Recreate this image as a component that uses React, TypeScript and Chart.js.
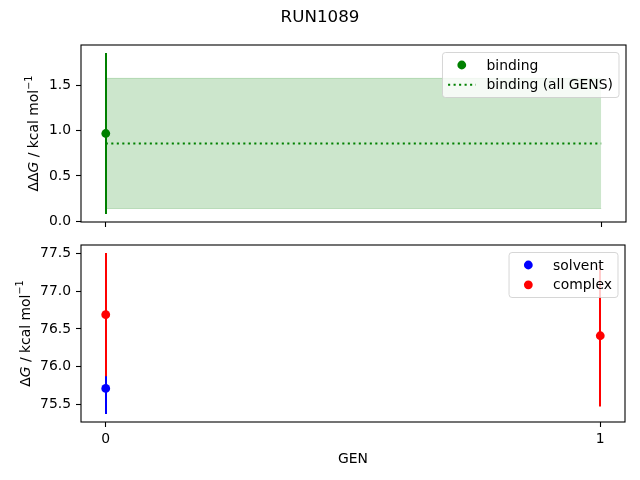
import React, { useEffect, useRef } from "react"
import { Chart, registerables } from "chart.js"

Chart.register(...registerables)

const title = "RUN1089"
const xLabel = "GEN"
const xTicks = [0, 1]

const bindingGens = [0]
const bindingValues = [0.97]
const bindingErrors = [0.89]
const bindingAllGens = [0, 1]
const bindingAllValue = 0.86
const bindingAllError = 0.72

const solventGens = [0]
const solventValues = [75.71]
const solventErrors = [0.34]
const complexGens = [0, 1]
const complexValues = [76.69, 76.41]
const complexErrors = [0.82, 0.94]

const topYTicks = [0, 0.5, 1.0, 1.5]
const bottomYTicks = [75.5, 76.0, 76.5, 77.0, 77.5]

const GREEN = "rgb(0,128,0)"
const BLUE = "rgb(0,0,255)"
const RED = "rgb(255,0,0)"
const FONT = "'DejaVu Sans', sans-serif"
const FS = 13.9

type Part = [string, "n" | "i" | "sup"]
type ErrSeries = { xs: number[]; ys: number[]; errs: number[]; color: string }
type LegendItem = { label: string; kind: "dot" | "dotted"; color: string }

function limits(lo: number[], hi: number[]) {
  const a = Math.min(...lo)
  const b = Math.max(...hi)
  const m = (b - a) * 0.05
  return [a - m, b + m]
}

const fontOf = (s: string) =>
  s === "i" ? `italic ${FS}px ${FONT}` : s === "sup" ? `${FS * 0.7}px ${FONT}` : `${FS}px ${FONT}`

function makePlugins(opts: {
  errors: ErrSeries[]
  legend: LegendItem[]
  yLabel: Part[]
  yTicks: number[]
  title?: string
  xLabel?: string
}) {
  return [
    {
      id: "errbars",
      beforeDatasetsDraw(chart: any) {
        const { ctx, scales } = chart
        ctx.save()
        ctx.lineWidth = 2
        opts.errors.forEach((s) => {
          ctx.strokeStyle = s.color
          s.xs.forEach((x, i) => {
            const px = Math.round(scales.x.getPixelForValue(x))
            ctx.beginPath()
            ctx.moveTo(px, scales.y.getPixelForValue(s.ys[i] - s.errs[i]))
            ctx.lineTo(px, scales.y.getPixelForValue(s.ys[i] + s.errs[i]))
            ctx.stroke()
          })
        })
        ctx.restore()
      },
    },
    {
      id: "frame",
      afterDatasetsDraw(chart: any) {
        const { ctx, chartArea: a } = chart
        ctx.save()
        ctx.strokeStyle = "#000"
        ctx.lineWidth = 1.1
        ctx.strokeRect(a.left, a.top, a.right - a.left, a.bottom - a.top)
        ctx.restore()
      },
    },
    {
      id: "texts",
      afterDraw(chart: any) {
        const { ctx, chartArea: a } = chart
        ctx.save()
        ctx.fillStyle = "#000"
        // y label, placed left of the widest tick label
        ctx.font = fontOf("n")
        const maxw = Math.max(...opts.yTicks.map((v) => ctx.measureText(v.toFixed(1)).width))
        const bx = a.left - 10 - maxw - 10.5
        const cy = (a.top + a.bottom) / 2
        ctx.translate(bx, cy)
        ctx.rotate(-Math.PI / 2)
        const widths = opts.yLabel.map(([t, s]) => {
          ctx.font = fontOf(s)
          return ctx.measureText(t).width
        })
        let x = -widths.reduce((p, c) => p + c, 0) / 2
        ctx.textAlign = "left"
        ctx.textBaseline = "alphabetic"
        opts.yLabel.forEach(([t, s], i) => {
          ctx.font = fontOf(s)
          ctx.fillText(t, x, s === "sup" ? -FS * 0.45 : 0)
          x += widths[i]
        })
        ctx.setTransform(1, 0, 0, 1, 0, 0)
        ctx.scale(chart.currentDevicePixelRatio, chart.currentDevicePixelRatio)
        ctx.textAlign = "center"
        if (opts.title) {
          ctx.font = `16.7px ${FONT}`
          ctx.fillText(opts.title, chart.width / 2, 22)
        }
        if (opts.xLabel) {
          ctx.font = fontOf("n")
          ctx.fillText(opts.xLabel, (a.left + a.right) / 2, a.bottom + 40.5)
        }
        // legend in the upper right corner
        ctx.font = fontOf("n")
        const tw = Math.max(...opts.legend.map((l) => ctx.measureText(l.label).width))
        const w = 5.6 + 27.8 + 11.1 + tw + 5.6
        const h = 45
        const right = a.right - 7
        const left = right - w
        const top = a.top + 7.5
        ctx.beginPath()
        ctx.roundRect(left, top, w, h, 3)
        ctx.fillStyle = "rgba(255,255,255,0.8)"
        ctx.fill()
        ctx.strokeStyle = "rgba(204,204,204,0.8)"
        ctx.lineWidth = 1
        ctx.stroke()
        opts.legend.forEach((l, i) => {
          const yy = top + 12.5 + i * 19.8
          if (l.kind === "dot") {
            ctx.fillStyle = l.color
            ctx.beginPath()
            ctx.arc(left + 19.3, yy, 4.4, 0, Math.PI * 2)
            ctx.fill()
          } else {
            ctx.strokeStyle = l.color
            ctx.lineWidth = 2.1
            ctx.setLineDash([2.1, 3.4])
            ctx.beginPath()
            ctx.moveTo(left + 5.6, yy)
            ctx.lineTo(left + 33.4, yy)
            ctx.stroke()
            ctx.setLineDash([])
          }
          ctx.fillStyle = "#000"
          ctx.textAlign = "left"
          ctx.textBaseline = "middle"
          ctx.fillText(l.label, left + 44, yy + 1)
        })
        ctx.restore()
      },
    },
  ]
}

function scalesFor(yTicks: number[], yLim: number[], showX: boolean, xHeight: number) {
  const tickFont = { family: FONT, size: FS }
  return {
    x: {
      type: "linear" as const,
      min: -0.05,
      max: 1.05,
      afterBuildTicks: (s: any) => {
        s.ticks = xTicks.map((v) => ({ value: v }))
      },
      afterFit: (s: any) => {
        s.height = xHeight
        s.paddingLeft = 0
        s.paddingRight = 0
      },
      ticks: {
        color: "#000",
        font: tickFont,
        padding: 4,
        maxRotation: 0,
        autoSkip: false,
        callback: (v: any) => (showX ? String(v) : ""),
      },
      grid: { drawOnChartArea: false, tickLength: 5, tickWidth: 1.1, tickColor: "#000" },
      border: { display: false },
    },
    y: {
      type: "linear" as const,
      min: yLim[0],
      max: yLim[1],
      afterBuildTicks: (s: any) => {
        s.ticks = yTicks.map((v) => ({ value: v }))
      },
      afterFit: (s: any) => {
        s.width = 81
        s.paddingTop = 0
        s.paddingBottom = 0
      },
      ticks: {
        color: "#000",
        font: tickFont,
        padding: 5,
        autoSkip: false,
        callback: (v: any) => Number(v).toFixed(1),
      },
      grid: { drawOnChartArea: false, tickLength: 5, tickWidth: 1.1, tickColor: "#000" },
      border: { display: false },
    },
  }
}

const pts = (xs: number[], ys: number[]) => xs.map((x, i) => ({ x, y: ys[i] }))

const App: React.FC = () => {
  const topRef = useRef<HTMLCanvasElement | null>(null)
  const bottomRef = useRef<HTMLCanvasElement | null>(null)

  useEffect(() => {
    if (!topRef.current || !bottomRef.current) return

    const topLim = limits(
      [...bindingValues.map((v, i) => v - bindingErrors[i]), bindingAllValue - bindingAllError],
      [...bindingValues.map((v, i) => v + bindingErrors[i]), bindingAllValue + bindingAllError]
    )
    const botLim = limits(
      [
        ...solventValues.map((v, i) => v - solventErrors[i]),
        ...complexValues.map((v, i) => v - complexErrors[i]),
      ],
      [
        ...solventValues.map((v, i) => v + solventErrors[i]),
        ...complexValues.map((v, i) => v + complexErrors[i]),
      ]
    )

    const top = new Chart(topRef.current, {
      type: "scatter",
      data: {
        datasets: [
          {
            label: "upper",
            data: bindingAllGens.map((x) => ({ x, y: bindingAllValue + bindingAllError })),
            showLine: true,
            pointRadius: 0,
            borderColor: "rgba(0,128,0,0.2)",
            borderWidth: 1,
            backgroundColor: "rgba(0,128,0,0.2)",
            fill: "+1",
            order: 3,
          },
          {
            label: "lower",
            data: bindingAllGens.map((x) => ({ x, y: bindingAllValue - bindingAllError })),
            showLine: true,
            pointRadius: 0,
            borderColor: "rgba(0,128,0,0.2)",
            borderWidth: 1,
            fill: false,
            order: 3,
          },
          {
            label: "binding (all GENS)",
            data: bindingAllGens.map((x) => ({ x, y: bindingAllValue })),
            showLine: true,
            pointRadius: 0,
            borderColor: GREEN,
            borderWidth: 2.1,
            borderDash: [2.1, 3.4],
            fill: false,
            order: 2,
          },
          {
            label: "binding",
            data: pts(bindingGens, bindingValues),
            pointRadius: 4.4,
            pointBackgroundColor: GREEN,
            pointBorderWidth: 0,
            order: 1,
          },
        ],
      },
      options: {
        responsive: false,
        animation: false,
        layout: { padding: { top: 45, right: 14, left: 0, bottom: 0 } },
        plugins: { legend: { display: false }, tooltip: { enabled: false } },
        scales: scalesFor(topYTicks, topLim, false, 18),
      },
      plugins: makePlugins({
        errors: [{ xs: bindingGens, ys: bindingValues, errs: bindingErrors, color: GREEN }],
        legend: [
          { label: "binding", kind: "dot", color: GREEN },
          { label: "binding (all GENS)", kind: "dotted", color: GREEN },
        ],
        yLabel: [
          ["ΔΔ", "n"],
          ["G", "i"],
          [" / kcal mol", "n"],
          ["−1", "sup"],
        ],
        yTicks: topYTicks,
        title,
      }),
    })

    const bottom = new Chart(bottomRef.current, {
      type: "scatter",
      data: {
        datasets: [
          {
            label: "solvent",
            data: pts(solventGens, solventValues),
            pointRadius: 4.4,
            pointBackgroundColor: BLUE,
            pointBorderWidth: 0,
          },
          {
            label: "complex",
            data: pts(complexGens, complexValues),
            pointRadius: 4.4,
            pointBackgroundColor: RED,
            pointBorderWidth: 0,
          },
        ],
      },
      options: {
        responsive: false,
        animation: false,
        layout: { padding: { top: 5, right: 15, left: 0, bottom: 0 } },
        plugins: { legend: { display: false }, tooltip: { enabled: false } },
        scales: scalesFor(bottomYTicks, botLim, true, 58),
      },
      plugins: makePlugins({
        errors: [
          { xs: solventGens, ys: solventValues, errs: solventErrors, color: BLUE },
          { xs: complexGens, ys: complexValues, errs: complexErrors, color: RED },
        ],
        legend: [
          { label: "solvent", kind: "dot", color: BLUE },
          { label: "complex", kind: "dot", color: RED },
        ],
        yLabel: [
          ["Δ", "n"],
          ["G", "i"],
          [" / kcal mol", "n"],
          ["−1", "sup"],
        ],
        yTicks: bottomYTicks,
        xLabel,
      }),
    })

    return () => {
      top.destroy()
      bottom.destroy()
    }
  }, [])

  return (
    <div style={{ position: "absolute", left: 0, top: 0, width: 640, height: 480, background: "#fff" }}>
      <canvas ref={topRef} width={640} height={240} style={{ position: "absolute", left: 0, top: 0 }} />
      <canvas ref={bottomRef} width={640} height={240} style={{ position: "absolute", left: 0, top: 240 }} />
    </div>
  )
}

export default App
